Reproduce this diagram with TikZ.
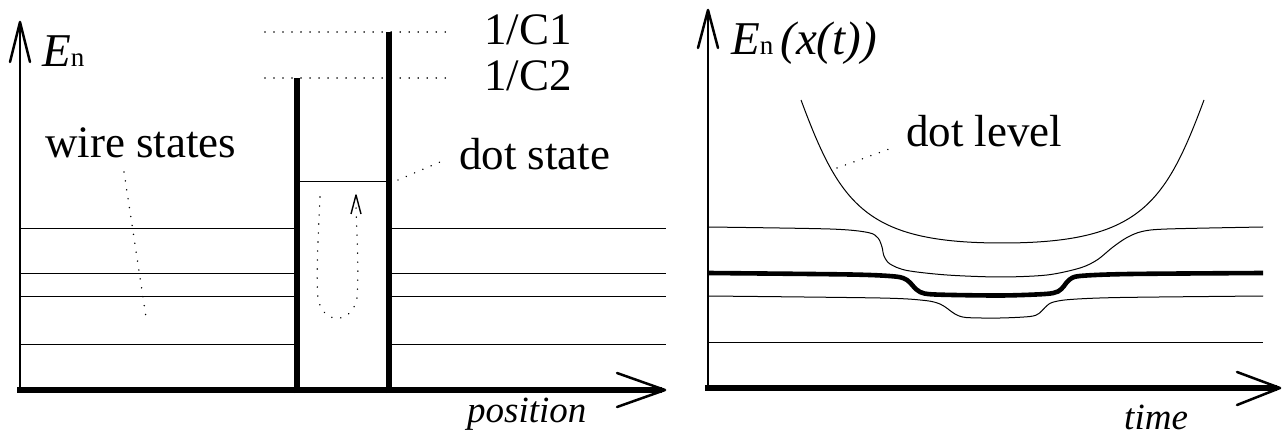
\documentclass[tikz,border=0pt]{standalone}
\usepackage{fontspec}
\setmainfont{Liberation Serif}
\tikzset{
  thinline/.style={line width=1pt},
  thickline/.style={line width=6pt},
  midline/.style={line width=4.6pt, line join=round},
  axisline/.style={line width=2pt},
  headline/.style={line width=2.5pt, line join=round, line cap=round},
  dotline/.style={line width=1.6pt, dash pattern=on 0.01pt off 9pt, line cap=round},
  lbl/.style={inner sep=0pt, anchor=base west, font=\fontsize{45}{45}\selectfont},
  ilbl/.style={inner sep=0pt, anchor=base west, font=\fontsize{37}{37}\selectfont\itshape},
}
\begin{document}
\begin{tikzpicture}[x=1pt,y=-1pt]
\path[use as bounding box] (0,0) rectangle (1282,438);

% ---------------- left panel ----------------
% axes
\draw[axisline] (20,390) -- (20,24);
\draw[headline] (10,62) -- (20,22) -- (30,62);
\draw[thickline] (17,390) -- (662,390);
\draw[headline] (617,373) -- (665,390) -- (617,407);

% barriers
\draw[thickline] (297,393) -- (297,78);
\draw[thickline] (389,393) -- (389,32);

% wire states
\foreach \yy in {229,274,297,344}{
  \draw[thinline] (20,\yy) -- (294,\yy);
  \draw[thinline] (392,\yy) -- (666,\yy);
}
% dot state
\draw[thinline] (300,182) -- (386,182);

% capacitance levels
\draw[dotline] (265,32) -- (452,32);
\draw[dotline] (265,78) -- (452,78);

% labels
\node[lbl] (En1) at (42,67) {\fontsize{47}{47}\selectfont\itshape E\fontsize{27}{27}\selectfont\upshape n};
\node[lbl] (ws) at (45,158) {wire states};
\node[lbl] (c1) at (484,45) {1/C1};
\node[lbl] (c2) at (484,91) {1/C2};
\node[lbl] (ds) at (459,170) {dot state};
\node[ilbl] (pos) at (467,422) {position};

% leaders
\coordinate (wsA) at (124,172);
\coordinate (wsB) at (146,317);
\draw[dotline] (wsA) -- (wsB);
\coordinate (dsA) at (398,180);
\coordinate (dsB) at (447,159);
\draw[dotline] (dsA) -- (dsB);

% tunnelling loop
\draw[dotline] (320,197) .. controls (318,240) and (316,280) .. (318,298)
  .. controls (322,325) and (352,325) .. (357,298)
  .. controls (359,270) and (357,240) .. (356,206);
\draw[line width=1.4pt, line join=round] (351,214) -- (356,195) -- (361,214);

% ---------------- right panel ----------------
\draw[axisline] (708,390) -- (708,12);
\draw[headline] (698,48) -- (708,10) -- (718,48);
\draw[thickline] (705,388) -- (1277,388);
\draw[headline] (1237,372) -- (1280,388) -- (1237,405);

% dot level
\draw[thinline] (801,100) .. controls (840,205) and (866,243) .. (1002,243)
  .. controls (1139,243) and (1165,205) .. (1204,100);

% upper wire level
\draw[thinline] plot[smooth, tension=0.5] coordinates {
 (708,227) (830,229) (868,232.5) (878,238) (882,247) (884,256) (890,264)
 (907,270.5) (947,275) (1000,277) (1047,275) (1080,268) (1097,260)
 (1113,247) (1127,237.5) (1142,231.5) (1167,229) (1263,227)};

% thick level
\draw[midline] plot[smooth, tension=0.5] coordinates {
 (708,273) (850,274.5) (895,276.5) (907,280) (913,286) (920,292) (935,294.5)
 (1000,295.5) (1045,294) (1058,291.5) (1064,286) (1069,280) (1080,276)
 (1130,274) (1263,273)};

% lower wire level
\draw[thinline] plot[smooth, tension=0.5] coordinates {
 (708,296) (880,298) (925,300.5) (940,304) (948,309) (955,314) (966,317.5)
 (1000,318) (1030,316.5) (1039,313.5) (1045,307.5) (1052,302.5) (1070,299.5)
 (1120,297.5) (1263,296)};

% lowest level
\draw[thinline] (708,342) -- (1263,342);

% labels
\node[lbl] (En2) at (731,55) {\fontsize{47}{47}\selectfont\itshape E\fontsize{27}{27}\selectfont\upshape n\hspace{7pt}\fontsize{47}{47}\selectfont\itshape (x(t))};
\node[lbl] (dl) at (906,147) {dot level};
\node[ilbl] (tm) at (1124,429) {time};
\coordinate (dlA) at (837,168);
\coordinate (dlB) at (892,148);
\draw[dotline] (dlA) -- (dlB);
\end{tikzpicture}
\end{document}
